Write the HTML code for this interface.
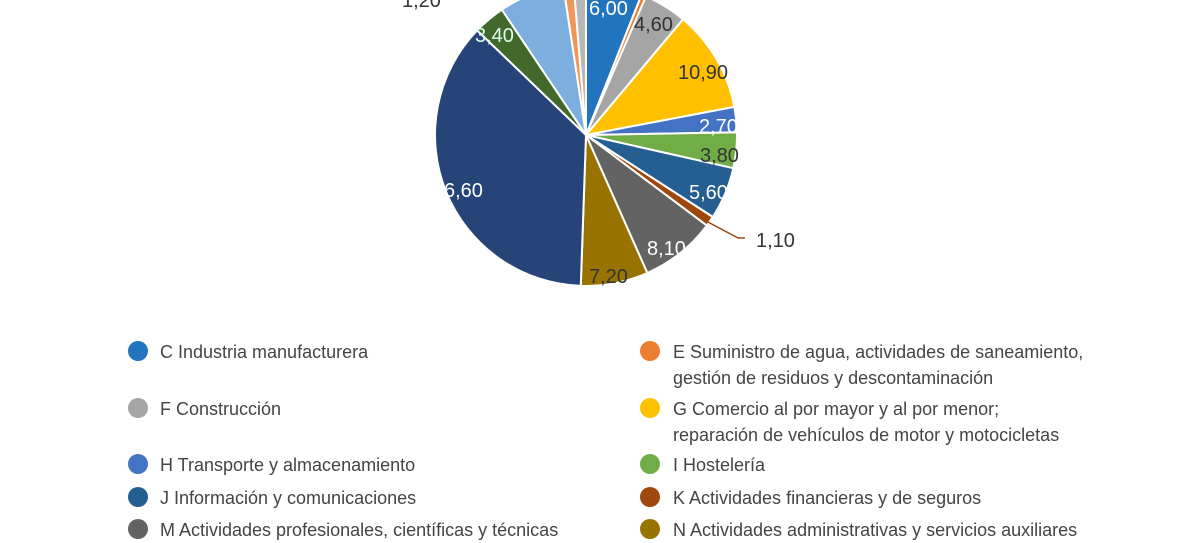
<!DOCTYPE html>
<html><head><meta charset="utf-8"><style>
body{margin:0;width:1200px;height:525px;overflow:hidden;background:#fff;font-family:"Liberation Sans",sans-serif;position:relative}
.lg{position:absolute;font-size:18px;color:#444;line-height:26px}
.dot{position:absolute;width:20px;height:20px;border-radius:50%}
</style></head><body>
<svg id="s" width="1200" height="320" style="position:absolute;left:0;top:0"></svg>
<script>
var cx=586,cy=135,r=151;
var sl=[[6,'#2274BE'],[0.5,'#ED7D31'],[4.6,'#A5A5A5'],[10.9,'#FFC000'],[2.7,'#4472C4'],[3.8,'#70AD47'],[5.6,'#255E91'],[1.1,'#9E480E'],[8.1,'#636363'],[7.2,'#997300'],[36.6,'#264478'],[3.4,'#43682B'],[7,'#7CAFDD'],[1.1,'#F1975A'],[1.3,'#B7B7B7']];
var tot=0;sl.forEach(function(s){tot+=s[0]});
var a=0,h='';
function pt(d,rr){var t=d*Math.PI/180;return [cx+rr*Math.sin(t),cy-rr*Math.cos(t)];}
sl.forEach(function(s){var d=s[0]/tot*360;var p1=pt(a,r),p2=pt(a+d,r);
h+='<path d="M'+cx+','+cy+'L'+p1[0].toFixed(2)+','+p1[1].toFixed(2)+'A'+r+','+r+' 0 '+(d>180?1:0)+' 1 '+p2[0].toFixed(2)+','+p2[1].toFixed(2)+'Z" fill="'+s[1]+'" stroke="#fff" stroke-width="2"/>';a+=d;});
h+='<polyline points="708,222 738,238 745,238" fill="none" stroke="#9E480E" stroke-width="1.5"/>';
var L=[['6,00',589,15,'#fff'],['4,60',634,31,'#333'],['10,90',678,79,'#333'],['2,70',699,133,'#fff'],['3,80',700,162,'#333'],['5,60',689,199,'#fff'],['1,10',756,247,'#333'],['8,10',647,255,'#fff'],['7,20',589,283,'#333'],['6,60',444,197,'#fff'],['3,40',475,42,'#dfe'],['1,20',402,7,'#333']];
L.forEach(function(l){h+='<text x="'+l[1]+'" y="'+l[2]+'" font-size="20" fill="'+l[3]+'" font-family="Liberation Sans, sans-serif">'+l[0]+'</text>';});
document.getElementById('s').innerHTML=h;
</script>
<div class="dot" style="left:128px;top:341px;background:#2274BE"></div><div class="lg" style="left:160px;top:339px">C Industria manufacturera</div>
<div class="dot" style="left:640px;top:341px;background:#ED7D31"></div><div class="lg" style="left:673px;top:339px">E Suministro de agua, actividades de saneamiento,<br>gestión de residuos y descontaminación</div>
<div class="dot" style="left:128px;top:398px;background:#A5A5A5"></div><div class="lg" style="left:160px;top:396px">F Construcción</div>
<div class="dot" style="left:640px;top:398px;background:#FFC000"></div><div class="lg" style="left:673px;top:396px">G Comercio al por mayor y al por menor;<br>reparación de vehículos de motor y motocicletas</div>
<div class="dot" style="left:128px;top:454px;background:#4472C4"></div><div class="lg" style="left:160px;top:452px">H Transporte y almacenamiento</div>
<div class="dot" style="left:640px;top:454px;background:#70AD47"></div><div class="lg" style="left:673px;top:452px">I Hostelería</div>
<div class="dot" style="left:128px;top:487px;background:#255E91"></div><div class="lg" style="left:160px;top:485px">J Información y comunicaciones</div>
<div class="dot" style="left:640px;top:487px;background:#9E480E"></div><div class="lg" style="left:673px;top:485px">K Actividades financieras y de seguros</div>
<div class="dot" style="left:128px;top:519px;background:#636363"></div><div class="lg" style="left:160px;top:517px">M Actividades profesionales, científicas y técnicas</div>
<div class="dot" style="left:640px;top:519px;background:#997300"></div><div class="lg" style="left:673px;top:517px">N Actividades administrativas y servicios auxiliares</div>
</body></html>
